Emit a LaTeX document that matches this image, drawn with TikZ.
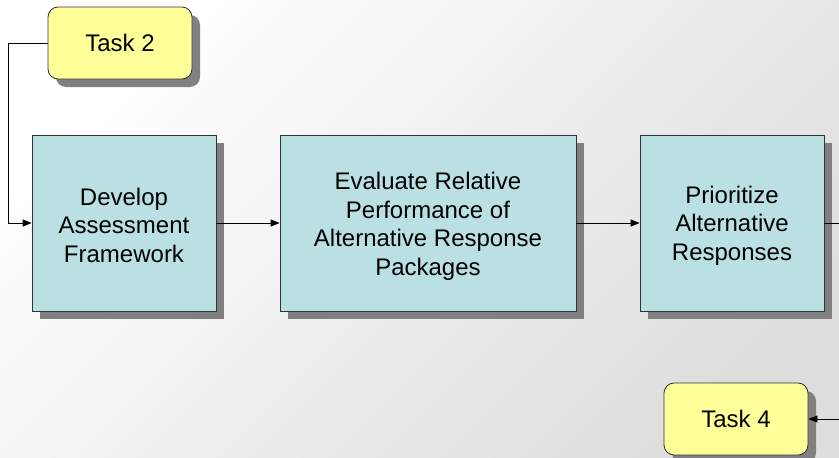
\documentclass[tikz,border=0pt]{standalone}
\usepackage{fontspec}
\setmainfont{Liberation Sans}
\usetikzlibrary{shadows,arrows.meta}
\definecolor{boxfill}{HTML}{BBE0E3}
\definecolor{taskfill}{HTML}{FFFF99}
\definecolor{edgecol}{HTML}{333333}
\definecolor{shadowcol}{HTML}{808080}
\begin{document}
\begin{tikzpicture}[x=1pt,y=-1pt,
  stepbox/.style={draw=edgecol, line width=0.8pt, fill=boxfill, minimum height=176pt, inner sep=0pt,
    drop shadow={shadow xshift=8pt, shadow yshift=-8pt, fill=shadowcol, opacity=1}},
  boxtext/.style={align=center, font=\fontsize{24}{28.5}\selectfont, inner sep=0pt},
  taskbox/.style={draw=edgecol, line width=0.8pt, fill=taskfill, rounded corners=10pt, minimum width=144pt, minimum height=72pt,
    font=\fontsize{24}{28.5}\selectfont, inner sep=0pt,
    drop shadow={shadow xshift=8pt, shadow yshift=-8pt, fill=shadowcol, opacity=1}},
  conn/.style={draw=black, line width=0.8pt, -{Triangle[length=9pt,width=7pt]}}
]
\useasboundingbox (0,0) rectangle (839,458);
\shade[shading=axis, top color=white, bottom color=black!13, shading angle=45] (0,0) rectangle (839,458);
\node[taskbox] (t2) at (120,43) {Task 2};
\node[stepbox, minimum width=184pt] (b1) at (124,223) {};
\node[stepbox, minimum width=296pt] (b2) at (428,223) {};
\node[stepbox, minimum width=184pt] (b3) at (732,223) {};
\node[boxtext] (b1t) at ([yshift=-2pt]b1.center) {Develop\\Assessment\\Framework};
\node[boxtext] (b2t) at ([yshift=-3.5pt]b2.center) {Evaluate Relative\\Performance of\\Alternative Response\\Packages};
\node[boxtext] (b3t) at ([yshift=-2.5pt]b3.center) {Prioritize\\Alternative\\Responses};
\node[taskbox] (t4) at (736,419) {Task 4};
\coordinate (c1) at (8,43);
\coordinate (c2) at (8,223);
\coordinate (e3) at (840,223);
\coordinate (e4) at (840,419);
\draw[conn] (t2.west) -- (c1) -- (c2) -- (b1.west);
\draw[conn] (b1.east) -- (b2.west);
\draw[conn] (b2.east) -- (b3.west);
\draw[draw=black, line width=0.8pt] (b3.east) -- (e3);
\draw[conn] (e4) -- (t4.east);
\end{tikzpicture}
\end{document}
